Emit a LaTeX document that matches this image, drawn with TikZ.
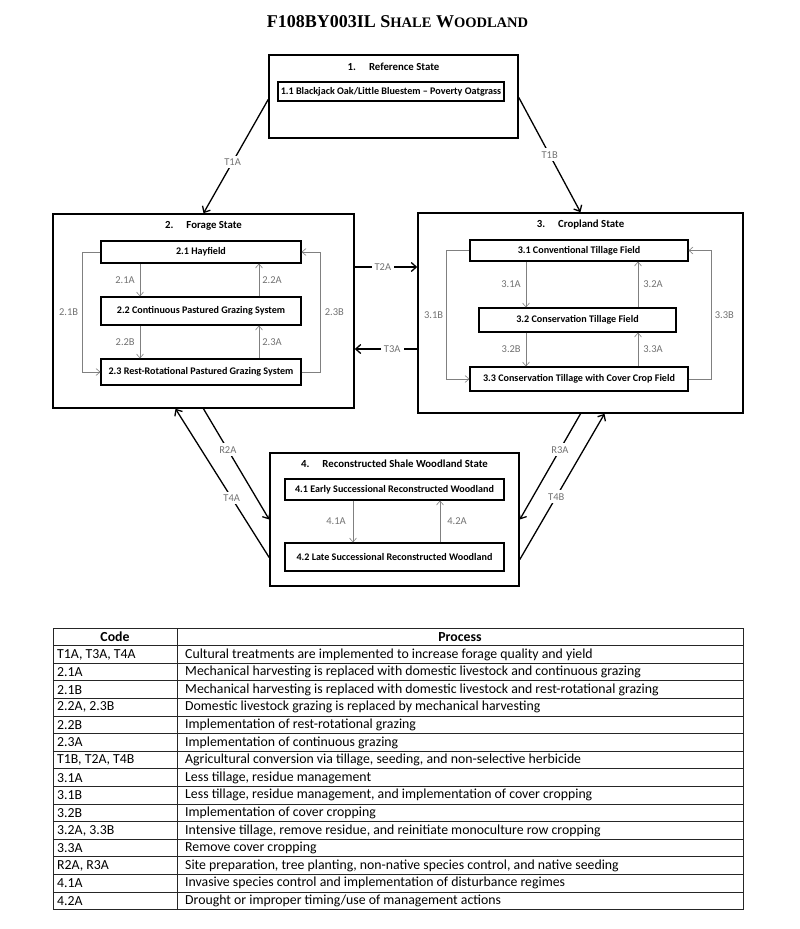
\documentclass[tikz,border=0pt]{standalone}
\usepackage{fontspec}
\setmainfont{Carlito}
\newfontfamily\titlefont{Liberation Serif}
\usetikzlibrary{arrows.meta,calc}
\newcommand\tabrow[3]{%
  \node[codecell] (c#1) at (57,{628+17.6*#1+8.8}) {#2};
  \node[proccell] (p#1) at (185,{628+17.6*#1+8.8}) {#3};
}
\begin{document}
\begin{tikzpicture}[x=1pt,y=-1pt,
  statebox/.style={draw, line width=1.6pt, inner sep=0pt},
  phase/.style={draw, line width=1.1pt, inner sep=0pt, font=\bfseries\fontsize{10.1}{11}\selectfont},
  hdr/.style={font=\bfseries\fontsize{10.8}{12}\selectfont, inner sep=0pt},
  glabel/.style={text=black!55, font=\fontsize{10.5}{11}\selectfont, inner sep=1pt},
  garrow/.style={draw=black!50, line width=0.6pt, -{Straight Barb[length=4pt,width=7pt]}},
  barrow/.style={draw=black, line width=1.3pt, -{Straight Barb[length=5pt,width=9pt]}},
  tlabel/.style={fill=white, text=black!55, font=\fontsize{10.5}{11}\selectfont, inner sep=3pt},
  codecell/.style={anchor=west, inner sep=0pt, font=\fontsize{13.8}{15}\selectfont},
  proccell/.style={anchor=west, inner sep=0pt, font=\fontsize{13.8}{15}\selectfont},
  tline/.style={draw=black!85, line width=0.8pt}
]
\useasboundingbox (0,0) rectangle (800,929);
\fill[white] (0,0) rectangle (800,929);

% title
\node[inner sep=0pt] (title) at (397.5,22) {\titlefont\bfseries\fontsize{18}{20}\selectfont F108BY003IL S{\fontsize{14.5}{16}\selectfont HALE} W{\fontsize{14.5}{16}\selectfont OODLAND}};

% state boxes
\node[statebox, minimum width=249pt, minimum height=83pt] (ref) at (393.5,96.5) {};
\node[statebox, minimum width=301pt, minimum height=194pt] (forage) at (203.5,311) {};
\node[statebox, minimum width=325pt, minimum height=200pt] (crop) at (580.5,313) {};
\node[statebox, minimum width=249pt, minimum height=133pt] (recon) at (394.5,519.5) {};

% headers
\node[hdr] (h1) at (393.5,67) {1.\hspace{13pt}Reference State};
\node[hdr] (h2) at (203.5,226) {2.\hspace{13pt}Forage State};
\node[hdr] (h3) at (580.5,225) {3.\hspace{13pt}Cropland State};
\node[hdr] (h4) at (394.5,464) {4.\hspace{13pt}Reconstructed Shale Woodland State};

% phases
\node[phase, minimum width=226pt, minimum height=19pt] (p11) at (391,91.5) {1.1 Blackjack Oak/Little Bluestem -- Poverty Oatgrass};
\node[phase, minimum width=200pt, minimum height=22pt] (p21) at (201,252) {2.1 Hayfield};
\node[phase, minimum width=200pt, minimum height=28pt] (p22) at (201,311) {2.2 Continuous Pastured Grazing System};
\node[phase, minimum width=200pt, minimum height=26pt] (p23) at (201,372) {2.3 Rest-Rotational Pastured Grazing System};
\node[phase, minimum width=218pt, minimum height=21pt] (p31) at (579,250.5) {3.1 Conventional Tillage Field};
\node[phase, minimum width=197pt, minimum height=24pt] (p32) at (577.5,320) {3.2 Conservation Tillage Field};
\node[phase, minimum width=218pt, minimum height=24pt] (p33) at (579,379) {3.3 Conservation Tillage with Cover Crop Field};
\node[phase, minimum width=219pt, minimum height=21pt] (p41) at (394.5,489.5) {4.1 Early Successional Reconstructed Woodland};
\node[phase, minimum width=219pt, minimum height=28pt] (p42) at (394.5,557) {4.2 Late Successional Reconstructed Woodland};

% forage pathways
\draw[garrow] ([xshift=-61pt]p21.south) -- ([xshift=-61pt]p22.north) node[midway,glabel,left=4pt] {2.1A};
\draw[garrow] ([xshift=58pt]p22.north) -- ([xshift=58pt]p21.south) node[midway,glabel,right=2pt] {2.2A};
\draw[garrow] ([xshift=-61pt]p22.south) -- ([xshift=-61pt]p23.north) node[midway,glabel,left=4pt] {2.2B};
\draw[garrow] ([xshift=58pt]p23.north) -- ([xshift=58pt]p22.south) node[midway,glabel,right=2pt] {2.3A};
\draw[garrow] (p21.west) -- ++(-18,0) |- (p23.west) node[pos=0.25,glabel,left=3pt] {2.1B};
\draw[garrow] (p23.east) -- ++(19,0) |- (p21.east) node[pos=0.25,glabel,right=3pt] {2.3B};

% cropland pathways
\draw[garrow] ([xshift=-53pt]p31.south) -- ([xshift=-51.5pt]p32.north) node[midway,glabel,left=4pt] {3.1A};
\draw[garrow] ([xshift=60.5pt]p32.north) -- ([xshift=59pt]p31.south) node[midway,glabel,right=4pt] {3.2A};
\draw[garrow] ([xshift=-51.5pt]p32.south) -- ([xshift=-53pt]p33.north) node[midway,glabel,left=4pt] {3.2B};
\draw[garrow] ([xshift=59pt]p33.north) -- ([xshift=60.5pt]p32.south) node[midway,glabel,right=4pt] {3.3A};
\draw[garrow] (p31.west) -- ++(-23,0) |- (p33.west) node[pos=0.25,glabel,left=2pt] {3.1B};
\draw[garrow] (p33.east) -- ++(23,0) |- (p31.east) node[pos=0.25,glabel,right=2pt] {3.3B};

% reconstructed pathways
\draw[garrow] ([xshift=-41.5pt]p41.south) -- ([xshift=-41.5pt]p42.north) node[midway,glabel,left=6pt] {4.1A};
\draw[garrow] ([xshift=45.5pt]p42.north) -- ([xshift=45.5pt]p41.south) node[midway,glabel,right=6pt] {4.2A};

% state transitions
\draw[barrow] ([yshift=-3pt]ref.west) -- (forage.north) node[pos=0.55,tlabel] {T1A};
\draw[barrow] ([yshift=-1pt]ref.east) -- (crop.north) node[pos=0.5,tlabel] {T1B};
\draw[barrow] ([yshift=44pt]forage.east) -- ([yshift=46pt]crop.west) node[pos=0.45,tlabel] {T2A};
\draw[barrow] ([yshift=-36pt]crop.west) -- ([yshift=-38pt]forage.east) node[pos=0.4,tlabel] {T3A};
\draw[barrow] (forage.south) -- (recon.west) node[pos=0.37,tlabel] {R2A};
\draw[barrow] ([yshift=-38pt]recon.west) -- ([xshift=-28pt]forage.south) node[pos=0.4,tlabel] {T4A};
\draw[barrow] (crop.south) -- (recon.east) node[pos=0.34,tlabel] {R3A};
\draw[barrow] ([yshift=-40pt]recon.east) -- ([xshift=24pt]crop.south) node[pos=0.43,tlabel] {T4B};

% table
\foreach \i in {0,...,16} {\draw[tline] (53,{628+17.6*\i}) -- (743,{628+17.6*\i});}
\draw[tline] (53,628) -- (53,909.6);
\draw[tline] (177,628) -- (177,909.6);
\draw[tline] (743,628) -- (743,909.6);
\node[inner sep=0pt, font=\bfseries\fontsize{13.8}{15}\selectfont] (hcode) at (115,636.8) {Code};
\node[inner sep=0pt, font=\bfseries\fontsize{13.8}{15}\selectfont] (hproc) at (460,636.8) {Process};
\tabrow{1}{T1A, T3A, T4A}{Cultural treatments are implemented to increase forage quality and yield}
\tabrow{2}{2.1A}{Mechanical harvesting is replaced with domestic livestock and continuous grazing}
\tabrow{3}{2.1B}{Mechanical harvesting is replaced with domestic livestock and rest-rotational grazing}
\tabrow{4}{2.2A, 2.3B}{Domestic livestock grazing is replaced by mechanical harvesting}
\tabrow{5}{2.2B}{Implementation of rest-rotational grazing}
\tabrow{6}{2.3A}{Implementation of continuous grazing}
\tabrow{7}{T1B, T2A, T4B}{Agricultural conversion via tillage, seeding, and non-selective herbicide}
\tabrow{8}{3.1A}{Less tillage, residue management}
\tabrow{9}{3.1B}{Less tillage, residue management, and implementation of cover cropping}
\tabrow{10}{3.2B}{Implementation of cover cropping}
\tabrow{11}{3.2A, 3.3B}{Intensive tillage, remove residue, and reinitiate monoculture row cropping}
\tabrow{12}{3.3A}{Remove cover cropping}
\tabrow{13}{R2A, R3A}{Site preparation, tree planting, non-native species control, and native seeding}
\tabrow{14}{4.1A}{Invasive species control and implementation of disturbance regimes}
\tabrow{15}{4.2A}{Drought or improper timing/use of management actions}
\end{tikzpicture}
\end{document}
